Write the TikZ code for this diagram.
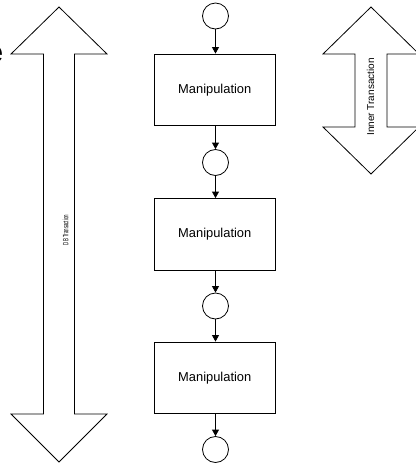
\documentclass[tikz,border=0pt]{standalone}
\usepackage{fontspec}
\setmainfont{Liberation Sans}
\usetikzlibrary{arrows.meta}
\begin{document}
\begin{tikzpicture}[x=1pt,y=-1pt,line width=0.8pt,
  state/.style={draw, circle, minimum size=26pt, inner sep=0pt},
  manip/.style={draw, rectangle, minimum width=120.5pt, minimum height=71.5pt,
                inner sep=0pt, font=\fontsize{12.9}{14}\selectfont},
  flow/.style={-{Triangle[width=7pt,length=6.5pt]}, line width=0.8pt},
  dblarrow/.style={draw, line width=0.8pt, line join=miter, fill=white},
  vlabel/.style={rotate=90, inner sep=0pt}]
\useasboundingbox (0,0) rectangle (416,467);

% cut-off heading letter at the left edge
\node[anchor=east, inner sep=0pt, font=\bfseries\fontsize{30}{30}\selectfont] (head) at (3.5,55) {e};

% outer double arrow: database transaction
\draw[dblarrow] (59,7) -- (107,54) -- (74.5,54) -- (74.5,414) -- (107,414)
  -- (59,462) -- (11,414) -- (43.5,414) -- (43.5,54) -- (11,54) -- cycle;
\node[vlabel, font=\fontsize{7.7}{8}\selectfont] (dbtx) at (65.5,230)
  {\scalebox{0.57}[1]{DB Transaction}};

% small double arrow: inner transaction
\draw[dblarrow] (371,7) -- (419,54) -- (387,54) -- (387,127) -- (419,127)
  -- (371,174) -- (323,127) -- (355,127) -- (355,54) -- (323,54) -- cycle;
\node[vlabel, font=\fontsize{10}{11}\selectfont] (innertx) at (370.5,97) {Inner Transaction};

% flow of states and manipulations
\node[state] (s1) at (215.5,16) {};
\node[manip] (m1) at (214.75,89.75) {Manipulation};
\node[state] (s2) at (215.5,162.5) {};
\node[manip] (m2) at (214.75,234.25) {Manipulation};
\node[state] (s3) at (215.5,306) {};
\node[manip] (m3) at (214.75,377.75) {Manipulation};
\node[state] (s4) at (215.5,449.5) {};

\draw[flow] (s1) -- (s1 |- m1.north);
\draw[flow] (s2 |- m1.south) -- (s2);
\draw[flow] (s2) -- (s2 |- m2.north);
\draw[flow] (s3 |- m2.south) -- (s3);
\draw[flow] (s3) -- (s3 |- m3.north);
\draw[flow] (s4 |- m3.south) -- (s4);
\end{tikzpicture}
\end{document}
